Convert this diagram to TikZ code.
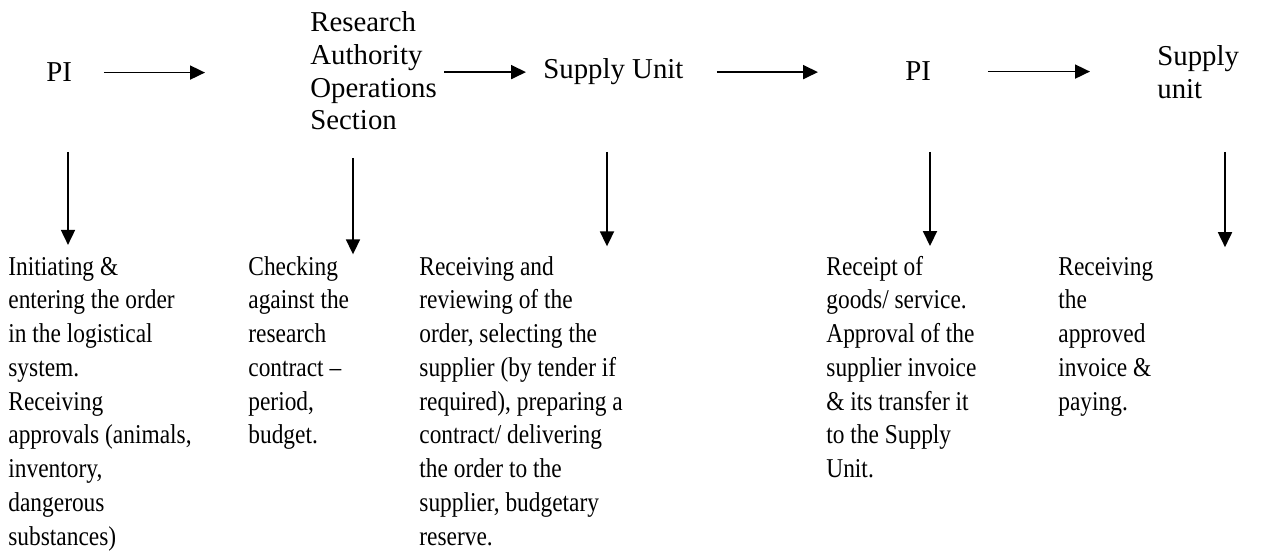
\documentclass[tikz,border=0pt]{standalone}
\usepackage{fontspec}
\setmainfont{Liberation Serif}
\newfontfamily\narrowfont{Liberation Serif}[FakeStretch=0.86]
\usetikzlibrary{arrows.meta}
\begin{document}
\begin{tikzpicture}[x=0.5pt,y=-0.5pt,
  head/.style={inner sep=0pt,anchor=base west,align=left,
    font=\fontsize{14.4}{16.35}\selectfont},
  task/.style={inner sep=0pt,anchor=base west,align=left,
    font=\narrowfont\fontsize{13.6}{16.875}\selectfont},
  flow/.style={line width=0.9pt,-{Triangle[length=7.5pt,width=7pt]}}]
\useasboundingbox (0,0) rectangle (1285,551);
% who handles the order (placed by the last baseline)
\node[head] (pi1) at (46,82) {PI};
\node[head] (ra) at (310,130) {Research\\Authority\\Operations\\Section};
\node[head] (su1) at (543,79) {Supply Unit};
\node[head] (pi2) at (905,81) {PI};
\node[head] (su2) at (1157,98) {Supply\\unit};
% what they do
\node[task] (init) at (8,545) {Initiating \&\\entering the order\\in the logistical\\system.\\Receiving\\approvals (animals,\\inventory,\\dangerous\\substances)};
\node[task] (check) at (248,443.75) {Checking\\against the\\research\\contract –\\period,\\budget.};
\node[task] (review) at (419,545) {Receiving and\\reviewing of the\\order, selecting the\\supplier (by tender if\\required), preparing a\\contract/ delivering\\the order to the\\supplier, budgetary\\reserve.};
\node[task] (receipt) at (826,477.5) {Receipt of\\goods/ service.\\Approval of the\\supplier invoice\\\& its transfer it\\to the Supply\\Unit.};
\node[task] (pay) at (1058,410) {Receiving\\the\\approved\\invoice \&\\paying.};
% order passes on
\draw[flow,shorten <=15.7pt,shorten >=52.5pt] (pi1.east) -- (pi1.east -| ra.west);
\draw[flow,shorten <=3.5pt,shorten >=8.5pt] (ra.east |- su1.east) -- (su1.east -| su1.west);
\draw[flow,shorten <=16.5pt,shorten >=43.5pt] (su1.east) -- (su1.east -| pi2.west);
\draw[flow,shorten <=28.2pt,shorten >=33.5pt] (pi2.east) -- (pi2.east -| su2.west);
% down to the tasks
\coordinate (d1) at (68,152);
\coordinate (d2) at (353,158);
\coordinate (d3) at (607,152);
\coordinate (d4) at (930,152);
\coordinate (d5) at (1225,152);
\draw[flow,shorten >=5.8pt] (d1) -- (d1 |- init.north);
\draw[flow,shorten >=0.7pt] (d2) -- (d2 |- check.north);
\draw[flow,shorten >=4.7pt] (d3) -- (d3 |- review.north);
\draw[flow,shorten >=4.7pt] (d4) -- (d4 |- receipt.north);
\draw[flow,shorten >=4.7pt] (d5) -- (d5 |- pay.north);
\end{tikzpicture}
\end{document}
